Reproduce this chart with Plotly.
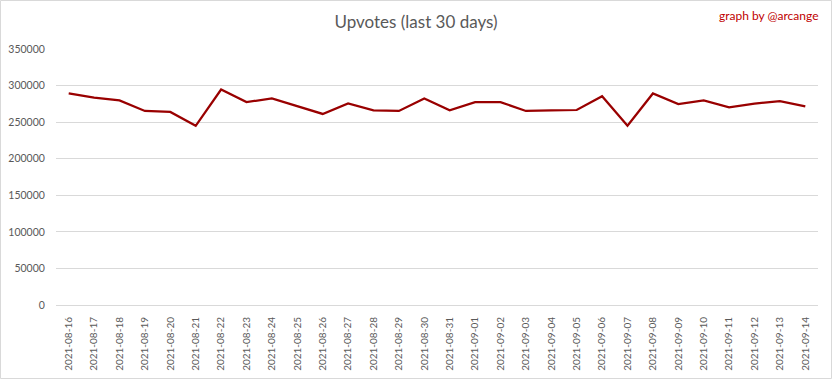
import plotly.graph_objects as go

dates = ["2021-08-16", "2021-08-17", "2021-08-18", "2021-08-19", "2021-08-20", "2021-08-21",
         "2021-08-22", "2021-08-23", "2021-08-24", "2021-08-25", "2021-08-26", "2021-08-27",
         "2021-08-28", "2021-08-29", "2021-08-30", "2021-08-31", "2021-09-01", "2021-09-02",
         "2021-09-03", "2021-09-04", "2021-09-05", "2021-09-06", "2021-09-07", "2021-09-08",
         "2021-09-09", "2021-09-10", "2021-09-11", "2021-09-12", "2021-09-13", "2021-09-14"]
upvotes = [289200, 283400, 279700, 265300, 263900, 245000,
           294600, 277400, 282400, 272000, 261200, 275700,
           266200, 265300, 282400, 266200, 277400, 277400,
           265300, 266200, 266600, 285500, 245000, 289200,
           274700, 279700, 270300, 275200, 278800, 271600]

W, H = 832, 379
ml, mr, mt, mb = 56, 14, 49, 74
pw, ph = W - ml - mr, H - mt - mb

fig = go.Figure()
fig.add_trace(go.Scatter(x=dates, y=upvotes, mode="lines",
                         line=dict(color="#990000", width=2.25), hoverinfo="x+y"))

font_family = "Lato, 'Open Sans', sans-serif"
fig.update_layout(
    width=W, height=H,
    margin=dict(l=ml, r=mr, t=mt, b=mb, autoexpand=False),
    paper_bgcolor="white", plot_bgcolor="white",
    showlegend=False,
    title=dict(text="Upvotes (last 30 days)", x=0.5, xref="container", xanchor="center",
               y=1 - 22 / H, yref="container", yanchor="middle",
               font=dict(family=font_family, size=17, color="#595959")),
    font=dict(family=font_family, size=10.5, color="#595959"),
    xaxis=dict(type="category", range=[-0.5, len(dates) - 0.5], tickangle=-90,
               showgrid=False, showline=True, automargin=False,
               linecolor="#d9d9d9", linewidth=1, ticks="outside", ticklen=7,
               tickcolor="rgba(0,0,0,0)", zeroline=False,
               tickfont=dict(size=10, color="#595959")),
    yaxis=dict(range=[0, 350000], dtick=50000, showgrid=True, gridcolor="#d9d9d9",
               gridwidth=1, zeroline=False, showline=False, automargin=False,
               ticks="outside", ticklen=8, tickcolor="rgba(0,0,0,0)",
               tickformat="d", tickfont=dict(size=10.5, color="#595959")),
    annotations=[dict(text="graph by @arcange", xref="paper", yref="paper",
                      x=(W - 11 - ml) / pw, y=(H - 15 - mb) / ph,
                      xanchor="right", yanchor="middle", showarrow=False,
                      font=dict(family=font_family, size=12, color="#c00000"))],
    shapes=[dict(type="rect", xref="paper", yref="paper",
                 x0=(0.5 - ml) / pw, x1=(W - 0.5 - ml) / pw,
                 y0=(0.5 - mb) / ph, y1=(H - 0.5 - mb) / ph,
                 line=dict(color="#d9d9d9", width=1), layer="below")],
)

fig.write_html("out.html", config={"displayModeBar": False},
               post_script="document.body.style.margin='0';document.body.style.overflow='hidden';")
